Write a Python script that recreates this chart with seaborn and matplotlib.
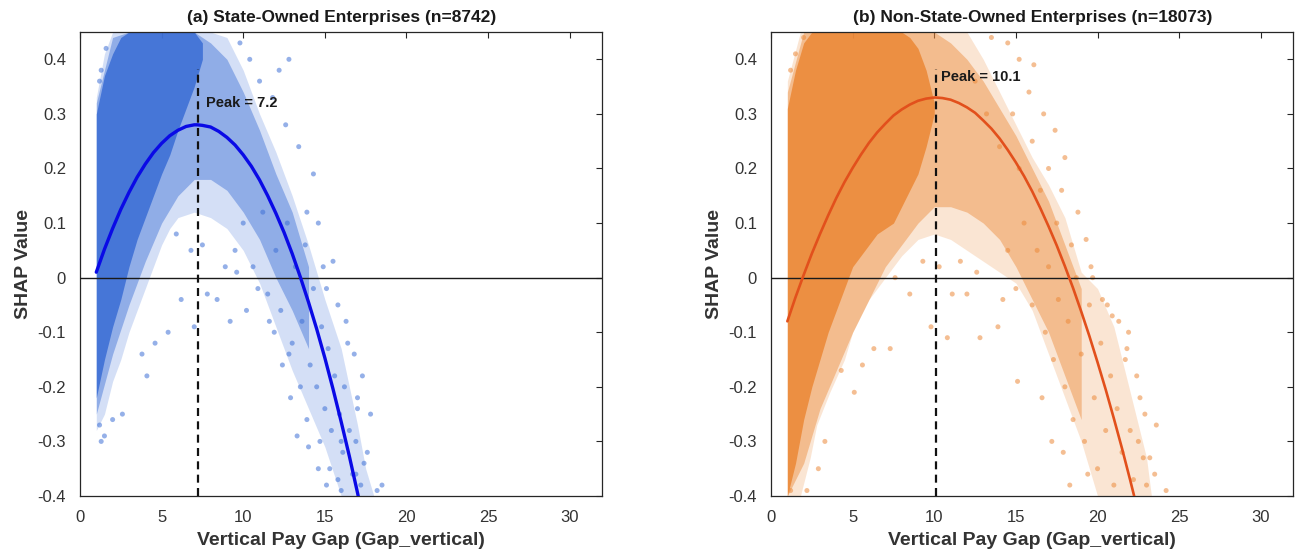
import matplotlib
matplotlib.use("Agg")
import matplotlib.pyplot as plt
import seaborn as sns

# ---------------- data ----------------
soe_title = "(a) State-Owned Enterprises (n=8742)"
non_title = "(b) Non-State-Owned Enterprises (n=18073)"
x_label = "Vertical Pay Gap (Gap_vertical)"
y_label = "SHAP Value"
soe_peak = 7.2
non_peak = 10.1

x_ticks = [0, 5, 10, 15, 20, 25, 30]
y_ticks = [-0.4, -0.3, -0.2, -0.1, 0.0, 0.1, 0.2, 0.3, 0.4]
y_tick_labels = ["-0.4", "-0.3", "-0.2", "-0.1", "0", "0.1", "0.2", "0.3", "0.4"]

# fitted quadratic trend, SOE
soe_fit_x = [1.0, 1.5, 2.0, 2.5, 3.0, 3.5, 4.0, 4.5, 5.0, 5.5, 6.0, 6.5, 7.0, 7.2, 7.5,
             8.0, 8.5, 9.0, 9.5, 10.0, 10.5, 11.0, 11.5, 12.0, 12.5, 13.0, 13.5, 14.0,
             14.5, 15.0, 15.5, 16.0, 16.5, 17.0, 17.5]
soe_fit_y = [0.010, 0.052, 0.090, 0.125, 0.156, 0.184, 0.208, 0.229, 0.246, 0.260, 0.270,
             0.277, 0.280, 0.280, 0.279, 0.276, 0.268, 0.257, 0.243, 0.225, 0.204, 0.179,
             0.150, 0.118, 0.083, 0.044, 0.001, -0.045, -0.094, -0.147, -0.204, -0.264,
             -0.327, -0.394, -0.465]

# fitted quadratic trend, non-SOE
non_fit_x = [1.0, 1.5, 2.0, 2.5, 3.0, 3.5, 4.0, 4.5, 5.0, 5.5, 6.0, 6.5, 7.0, 7.5, 8.0,
             8.5, 9.0, 9.5, 10.0, 10.1, 10.5, 11.0, 11.5, 12.0, 12.5, 13.0, 13.5, 14.0,
             14.5, 15.0, 15.5, 16.0, 16.5, 17.0, 17.5, 18.0, 18.5, 19.0, 19.5, 20.0,
             20.5, 21.0, 21.5, 22.0, 22.5]
non_fit_y = [-0.080, -0.036, 0.005, 0.044, 0.080, 0.114, 0.146, 0.175, 0.201, 0.225,
             0.247, 0.266, 0.282, 0.297, 0.308, 0.317, 0.324, 0.328, 0.330, 0.330, 0.329,
             0.326, 0.320, 0.312, 0.302, 0.288, 0.273, 0.255, 0.234, 0.211, 0.186, 0.158,
             0.127, 0.094, 0.059, 0.021, -0.019, -0.062, -0.107, -0.155, -0.205, -0.258,
             -0.313, -0.371, -0.431]

# SOE point cloud: extent of the sparse, dense and saturated parts
soe_sparse_x = [1.0, 1.5, 2.0, 2.5, 3.0, 3.5, 4.0, 4.5, 5.0, 5.5, 6.0, 7.0, 8.0, 9.0,
                10.0, 11.0, 12.0, 13.0, 14.0, 15.0, 16.0, 17.0, 17.5, 18.0]
soe_sparse_lo = [-0.28, -0.25, -0.19, -0.15, -0.10, -0.06, -0.02, 0.02, 0.06, 0.09, 0.11,
                 0.12, 0.11, 0.09, 0.05, -0.01, -0.09, -0.17, -0.24, -0.31, -0.40, -0.40,
                 -0.40, -0.40]
soe_sparse_hi = [0.33, 0.41, 0.45, 0.45, 0.45, 0.45, 0.45, 0.45, 0.45, 0.45, 0.45, 0.45,
                 0.45, 0.44, 0.38, 0.30, 0.23, 0.15, 0.06, -0.04, -0.13, -0.27, -0.35, -0.40]
soe_dense_x = [1.0, 2.0, 3.0, 4.0, 5.0, 6.0, 7.0, 8.0, 9.0, 10.0, 11.0, 12.0, 13.0, 14.0]
soe_dense_lo = [-0.25, -0.14, -0.05, 0.03, 0.10, 0.15, 0.18, 0.18, 0.16, 0.12, 0.07, 0.00,
                -0.06, -0.13]
soe_dense_hi = [0.32, 0.44, 0.45, 0.45, 0.45, 0.45, 0.45, 0.43, 0.40, 0.34, 0.27, 0.19,
                0.12, 0.02]
soe_core_x = [1.0, 1.5, 2.0, 2.5, 3.0, 3.5, 4.0, 4.5, 5.0, 5.5, 6.0, 6.5, 7.0, 7.5]
soe_core_lo = [-0.22, -0.15, -0.09, -0.04, 0.02, 0.07, 0.11, 0.15, 0.19, 0.225, 0.27, 0.31,
               0.35, 0.40]
soe_core_hi = [0.30, 0.37, 0.41, 0.44, 0.45, 0.45, 0.45, 0.45, 0.45, 0.45, 0.45, 0.45,
               0.45, 0.43]

# SOE observations away from the main cloud
soe_pts_x = [1.3, 1.6, 1.2, 9.8, 10.4, 11.0, 12.2, 12.8, 11.8, 12.6, 13.4, 14.3, 13.9,
             14.6, 15.5, 15.1, 16.3, 16.8, 17.3, 17.8, 17.6, 18.2, 18.5, 5.4, 7.0, 7.8,
             8.4, 9.2, 10.2, 6.2, 8.9, 6.8, 3.8, 4.1, 4.6, 2.6, 2.0, 1.3, 1.2, 1.5, 13.3,
             12.4, 11.6, 14.0, 14.6, 15.1, 15.8, 16.9, 12.9, 5.9, 7.5, 9.6, 16.0, 17.0]
soe_pts_y = [0.38, 0.42, 0.36, 0.43, 0.40, 0.36, 0.38, 0.40, 0.33, 0.28, 0.24, 0.19, 0.12,
             0.10, 0.03, -0.02, -0.08, -0.14, -0.18, -0.25, -0.32, -0.39, -0.38, -0.10,
             -0.09, -0.03, -0.04, -0.08, -0.06, -0.04, 0.02, 0.05, -0.14, -0.18, -0.12,
             -0.25, -0.26, -0.30, -0.27, -0.29, -0.29, -0.16, -0.08, -0.31, -0.35, -0.38,
             -0.37, -0.36, -0.22, 0.08, 0.06, 0.01, -0.30, -0.22]
# SOE observations inside the descending band
soe_band_x = [9.5, 10.0, 10.6, 11.2, 11.5, 12.0, 12.3, 12.7, 13.0, 13.2, 13.6, 13.8, 14.1,
              14.3, 14.5, 14.8, 15.0, 15.2, 15.4, 15.6, 15.9, 16.1, 16.2, 16.5, 16.7,
              16.9, 17.2, 17.4, 15.8, 16.4, 14.9, 17.0, 13.5, 12.8, 11.9, 10.9, 13.9,
              14.7, 15.3, 16.0]
soe_band_y = [0.05, 0.10, 0.02, 0.12, -0.03, 0.05, -0.06, 0.10, -0.12, 0.02, -0.08, 0.06,
              -0.16, -0.02, -0.20, -0.09, -0.24, -0.13, -0.28, -0.18, -0.25, -0.32, -0.20,
              -0.28, -0.36, -0.30, -0.38, -0.34, -0.05, -0.12, 0.02, -0.24, -0.20, -0.14,
              -0.10, -0.02, -0.26, -0.30, -0.35, -0.39]

# non-SOE point cloud
non_sparse_x = [1.0, 1.8, 2.4, 2.8, 3.6, 4.5, 5.0, 6.0, 7.0, 8.0, 9.0, 10.0, 11.0, 12.0,
                13.0, 14.0, 15.0, 16.0, 17.0, 18.0, 19.0, 20.0, 21.0, 22.0, 23.0, 23.3]
non_sparse_lo = [-0.40, -0.40, -0.33, -0.27, -0.21, -0.15, -0.10, -0.04, 0.00, 0.04, 0.07,
                 0.08, 0.07, 0.05, 0.03, 0.01, -0.01, -0.06, -0.14, -0.22, -0.30, -0.40,
                 -0.40, -0.40, -0.40, -0.40]
non_sparse_hi = [0.36, 0.45, 0.45, 0.45, 0.45, 0.45, 0.45, 0.45, 0.45, 0.45, 0.45, 0.45,
                 0.45, 0.45, 0.40, 0.34, 0.28, 0.22, 0.17, 0.11, 0.01, -0.02, -0.09, -0.21,
                 -0.33, -0.40]
non_dense_x = [1.0, 2.0, 3.0, 4.0, 5.0, 6.0, 7.0, 8.0, 9.0, 10.0, 11.0, 12.0, 13.0, 14.0,
               15.0, 16.0, 17.0, 18.0, 19.0]
non_dense_lo = [-0.40, -0.34, -0.24, -0.17, -0.10, -0.04, 0.02, 0.06, 0.10, 0.13, 0.13,
                0.12, 0.10, 0.07, 0.02, -0.04, -0.10, -0.18, -0.26]
non_dense_hi = [0.34, 0.45, 0.45, 0.45, 0.45, 0.45, 0.45, 0.45, 0.45, 0.45, 0.43, 0.40,
                0.36, 0.31, 0.26, 0.20, 0.14, 0.06, -0.02]
non_core_x = [1.0, 1.5, 2.0, 2.5, 3.0, 3.5, 4.0, 4.5, 5.0, 5.5, 6.0, 6.5, 7.0, 7.5, 8.0,
              8.5, 9.0, 9.5, 10.0]
non_core_lo = [-0.40, -0.34, -0.26, -0.20, -0.15, -0.10, -0.06, -0.02, 0.02, 0.04, 0.06,
               0.08, 0.09, 0.10, 0.13, 0.16, 0.19, 0.24, 0.30]
non_core_hi = [0.31, 0.38, 0.43, 0.45, 0.45, 0.45, 0.45, 0.45, 0.45, 0.45, 0.45, 0.45,
               0.45, 0.45, 0.45, 0.44, 0.42, 0.38, 0.32]

# non-SOE observations away from the main cloud
non_pts_x = [1.5, 1.2, 2.0, 13.5, 14.5, 15.2, 16.1, 15.8, 16.7, 17.4, 18.0, 17.8, 18.8,
             19.3, 19.6, 20.3, 20.9, 21.3, 21.8, 22.4, 22.9, 23.6, 23.5, 24.2, 23.2, 9.8,
             10.8, 12.8, 13.9, 11.1, 12.0, 14.2, 7.3, 6.3, 5.1, 4.3, 15.1, 16.6, 17.9,
             1.2, 2.2, 8.5, 7.6, 9.3, 11.6, 5.6, 3.3, 2.9, 18.3, 17.2, 19.4, 12.6, 10.3]
non_pts_y = [0.41, 0.38, 0.44, 0.44, 0.43, 0.40, 0.39, 0.34, 0.30, 0.27, 0.22, 0.16, 0.12,
             0.07, 0.02, -0.04, -0.07, -0.08, -0.13, -0.18, -0.25, -0.27, -0.36, -0.39,
             -0.33, -0.09, -0.11, -0.11, -0.09, -0.03, -0.03, -0.04, -0.13, -0.13, -0.21,
             -0.17, -0.19, -0.22, -0.32, -0.39, -0.39, -0.03, 0.00, 0.03, 0.03, -0.16,
             -0.30, -0.35, -0.38, -0.30, -0.36, 0.01, 0.02]
# non-SOE observations inside the descending band
non_band_x = [14.5, 15.0, 15.5, 16.0, 16.3, 16.8, 17.0, 17.3, 17.6, 18.0, 18.2, 18.5,
              18.7, 19.0, 19.2, 19.5, 19.8, 20.0, 20.2, 20.5, 20.8, 21.0, 21.2, 21.5,
              21.7, 22.0, 22.2, 22.6, 22.8, 19.7, 18.4, 17.5, 16.5, 15.2, 14.0, 13.2,
              12.5, 14.8, 16.0, 17.0, 20.6, 21.9, 23.0, 22.5]
non_band_y = [0.05, -0.02, 0.10, -0.05, 0.05, -0.10, 0.02, -0.15, -0.04, -0.20, -0.08,
              -0.26, 0.00, -0.14, -0.30, -0.05, -0.22, -0.35, -0.12, -0.28, -0.18, -0.38,
              -0.24, -0.32, -0.15, -0.28, -0.37, -0.22, -0.33, 0.00, 0.06, 0.10, 0.16,
              0.20, 0.24, 0.30, 0.36, 0.30, 0.25, 0.20, -0.05, -0.10, -0.38, -0.30]

# ---------------- style ----------------
sns.set_theme(style="white")
plt.rcParams["font.family"] = ["Liberation Sans", "DejaVu Sans"]
ink = "#262626"

fig = plt.figure(figsize=(12.98, 5.54), dpi=100)
ax_l = fig.add_axes([0.0616, 0.1047, 0.4025, 0.8375])
ax_r = fig.add_axes([0.594, 0.1047, 0.4025, 0.8375])


def pts_x_y(xs, ys):
    return list(zip(xs, ys))


def draw_panel(ax, title, color, line_color, line_w, layers, pts_x, pts_y,
               fit_x, fit_y, peak, peak_text_x, peak_text_y):
    for (lx, llo, lhi), alpha in layers:
        ax.fill_between(lx, llo, lhi, color=color, alpha=alpha, linewidth=0)
    for px, py in pts_x_y(pts_x, pts_y):
        sns.scatterplot(x=px, y=py, ax=ax, color=color, s=13, alpha=0.55,
                        edgecolor="none", linewidth=0, legend=False)
    ax.axhline(0, color="#1a1a1a", lw=1.0, zorder=3)
    ax.plot([peak, peak], [-0.4, 0.382], color="#111111", lw=1.6,
            linestyle=(0, (3.6, 2.4)), zorder=4)
    sns.lineplot(x=fit_x, y=fit_y, ax=ax, color=line_color, lw=line_w,
                 sort=False, estimator=None, zorder=5)
    ax.text(peak_text_x, peak_text_y, f"Peak = {peak}", fontsize=10.5,
            fontweight="bold", color="#1a1a1a", ha="left", va="center", zorder=6)

    ax.set_xlim(0, 32)
    ax.set_ylim(-0.4, 0.45)
    ax.set_xticks(x_ticks)
    ax.set_yticks(y_ticks)
    ax.set_yticklabels(y_tick_labels)
    ax.tick_params(direction="in", top=True, right=True, length=4, width=0.8,
                   colors=ink, labelsize=12, labelcolor="#333333", pad=10)
    for sp in ax.spines.values():
        sp.set_visible(True)
        sp.set_color(ink)
        sp.set_linewidth(0.9)
    ax.set_title(title, fontsize=12.5, fontweight="bold", color="#1a1a1a", pad=7)
    ax.set_xlabel(x_label, fontsize=14, fontweight="bold", color="#333333", labelpad=5)
    ax.set_ylabel(y_label, fontsize=14, fontweight="bold", color="#333333", labelpad=4)


draw_panel(ax_l, soe_title, "#3e70d6", "#0a0ae6", 2.4,
           [((soe_sparse_x, soe_sparse_lo, soe_sparse_hi), 0.22),
            ((soe_dense_x, soe_dense_lo, soe_dense_hi), 0.45),
            ((soe_core_x, soe_core_lo, soe_core_hi), 0.9)],
           [soe_pts_x, soe_band_x], [soe_pts_y, soe_band_y],
           soe_fit_x, soe_fit_y, soe_peak, 7.7, 0.32)

draw_panel(ax_r, non_title, "#ec8a3a", "#e2501c", 1.9,
           [((non_sparse_x, non_sparse_lo, non_sparse_hi), 0.22),
            ((non_dense_x, non_dense_lo, non_dense_hi), 0.45),
            ((non_core_x, non_core_lo, non_core_hi), 0.9)],
           [non_pts_x, non_band_x], [non_pts_y, non_band_y],
           non_fit_x, non_fit_y, non_peak, 10.4, 0.367)

fig.savefig("out.png", dpi=100, facecolor="white")
